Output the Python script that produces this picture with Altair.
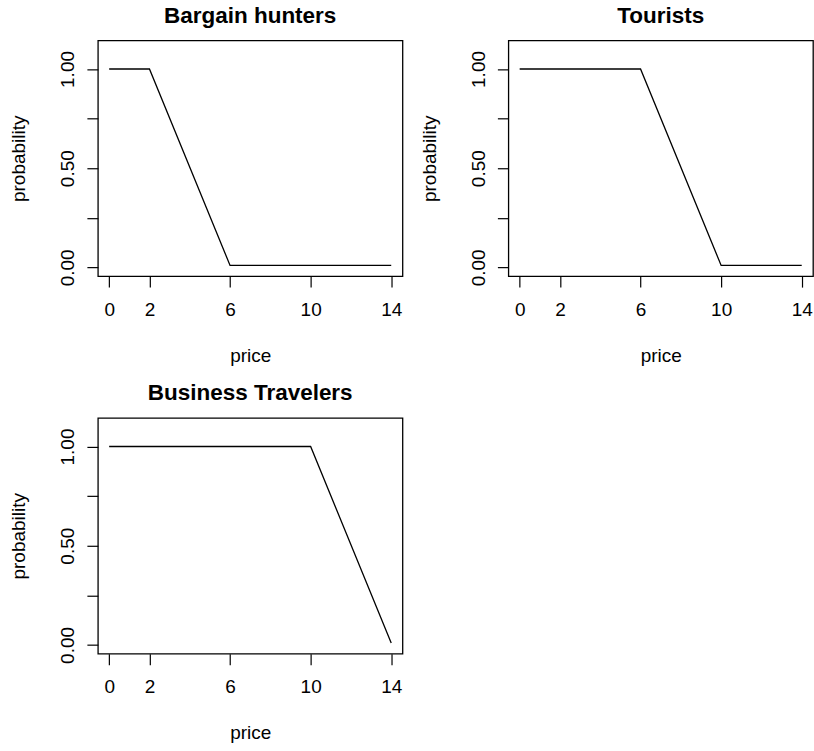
import altair as alt
import pandas as pd

# Purchase probability by price for three customer segments
bargain_price = [0, 2, 6, 14]
bargain_prob = [1.0, 1.0, 0.01, 0.01]

tourist_price = [0, 6, 10, 14]
tourist_prob = [1.0, 1.0, 0.01, 0.01]

business_price = [0, 10, 14]
business_prob = [1.0, 1.0, 0.01]

titles = ["Bargain hunters", "Tourists", "Business Travelers"]
x_ticks = [0, 2, 6, 10, 14]
y_ticks = [0, 0.25, 0.5, 0.75, 1.0]

W, H = 305, 236
FONT = "Liberation Sans"


def panel(title, prices, probs):
    df = pd.DataFrame({"price": prices, "probability": probs})
    return (
        alt.Chart(
            df,
            title=alt.Title(
                title,
                fontSize=22.5,
                fontWeight="bold",
                font=FONT,
                color="black",
                anchor="middle",
                frame="group",
                baseline="alphabetic",
                offset=0,
                dy=5,
            ),
        )
        .mark_line(color="black", strokeWidth=1.3)
        .encode(
            x=alt.X(
                "price:Q",
                scale=alt.Scale(domain=[-0.56, 14.56], nice=False, zero=False),
                axis=alt.Axis(
                    values=x_ticks,
                    format="d",
                    title="price",
                    titleX=W / 2,
                    titleY=85,
                    titleAlign="center",
                    titleBaseline="alphabetic",
                    labelPadding=13,
                ),
            ),
            y=alt.Y(
                "probability:Q",
                scale=alt.Scale(domain=[-0.044, 1.144], nice=False, zero=False),
                axis=alt.Axis(
                    values=y_ticks,
                    labelExpr="(datum.value == 0.25 || datum.value == 0.75) ? '' : format(datum.value, '.2f')",
                    labelAngle=270,
                    labelAlign="center",
                    labelBaseline="alphabetic",
                    labelPadding=13,
                    title="probability",
                    titleAngle=270,
                    titleX=-73,
                    titleY=H / 2,
                    titleAlign="center",
                    titleBaseline="alphabetic",
                ),
            ),
        )
        .properties(width=W, height=H)
    )


chart = (
    alt.concat(
        panel(titles[0], bargain_price, bargain_prob),
        panel(titles[1], tourist_price, tourist_prob),
        panel(titles[2], business_price, business_prob),
        columns=2,
        spacing={"row": 142, "column": 106},
        bounds="flush",
    )
    .properties(padding={"left": 9, "top": 3, "right": 0, "bottom": 0})
    .configure(font=FONT)
    .configure_view(stroke="black", strokeWidth=1.3, fill="white")
    .configure_axis(
        domain=False,
        grid=False,
        ticks=True,
        tickColor="black",
        tickWidth=1.2,
        tickSize=11,
        labelFont=FONT,
        labelFontSize=19,
        labelColor="black",
        labelOverlap=False,
        labelFlush=False,
        titleFont=FONT,
        titleFontSize=19,
        titleFontWeight="normal",
        titleColor="black",
    )
)

chart.save("out.html", embed_options={"renderer": "svg", "actions": False})
